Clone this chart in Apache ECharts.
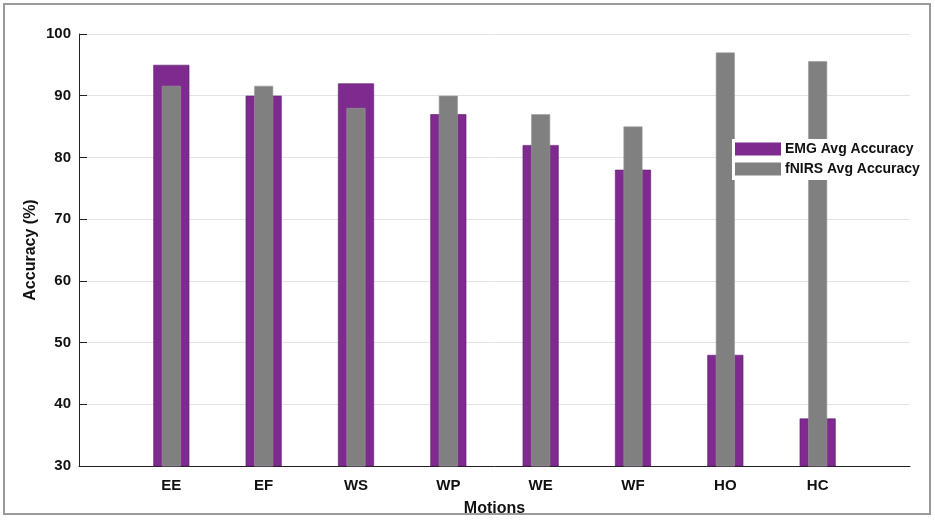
<!DOCTYPE html>
<html>
<head>
<meta charset="utf-8">
<script src="https://cdn.jsdelivr.net/npm/echarts@6/dist/echarts.min.js"></script>
<style>html,body{margin:0;padding:0;background:#fff;}#c{width:935px;height:520px;}</style>
</head>
<body>
<div id="c"></div>
<script>
const categories = ['EE', 'EF', 'WS', 'WP', 'WE', 'WF', 'HO', 'HC'];
const emgValues = [95, 90, 92, 87, 82, 78, 48, 37.7];
const fnirsValues = [91.6, 91.6, 88, 90, 87, 85, 97, 95.6];
const yTicks = [30, 40, 50, 60, 70, 80, 90, 100];

const FONT = '"Liberation Sans", Arial, sans-serif';
const positions = categories.map((c, i) => i + 1);

const chart = echarts.init(document.getElementById('c'), null, {renderer: 'canvas'});
const xAxisBase = {
  type: 'value', min: 0, max: positions.length + 1,
  axisLine: {show: true, onZero: false, lineStyle: {color: '#222', width: 1}},
  splitLine: {show: false}
};
chart.setOption({
  animation: false,
  backgroundColor: '#fff',
  grid: {left: 79, right: 25, top: 34, bottom: 54, containLabel: false, outerBoundsMode: 'none'},
  graphic: [{
    type: 'rect', shape: {x: 4, y: 4, width: 926, height: 510},
    style: {fill: 'none', stroke: '#9a9a9a', lineWidth: 2}, z: 100, silent: true
  }],
  legend: {
    orient: 'vertical', left: 732, top: 139,
    data: ['EMG Avg Accuracy', 'fNIRS Avg Accuracy'],
    itemWidth: 46, itemHeight: 13, itemGap: 6,
    backgroundColor: '#fff', padding: [3, 8, 4, 3],
    icon: 'rect',
    itemStyle: {borderWidth: 0},
    textStyle: {fontFamily: FONT, fontWeight: 'bold', fontSize: 14, color: '#111', padding: [0, 0, 0, -1]},
    selectedMode: false
  },
  xAxis: [
    Object.assign({}, xAxisBase, {
      name: 'Motions', nameLocation: 'middle', nameGap: 35, nameMoveOverlap: false,
      nameTextStyle: {fontFamily: FONT, fontWeight: 'bold', fontSize: 16, color: '#111'},
      axisTick: {show: true, inside: true, length: 6, lineStyle: {color: '#222'}, customValues: positions},
      axisLabel: {
        show: true, margin: 12, customValues: positions,
        formatter: v => categories[Math.round(v) - 1] || '',
        fontFamily: FONT, fontWeight: 'bold', fontSize: 15, color: '#111'
      }
    }),
    Object.assign({}, xAxisBase, {
      show: false
    })
  ],
  yAxis: {
    type: 'value', min: 30, max: 100, interval: 10,
    name: 'Accuracy (%)', nameLocation: 'middle', nameGap: 40, nameRotate: 90, nameMoveOverlap: false,
    nameTextStyle: {fontFamily: FONT, fontWeight: 'bold', fontSize: 16, color: '#111'},
    axisLine: {show: true, lineStyle: {color: '#222', width: 1}},
    axisTick: {show: true, inside: true, length: 8, lineStyle: {color: '#222'}},
    axisLabel: {
      margin: 8, fontFamily: FONT, fontWeight: 'bold', fontSize: 15, color: '#111',
      formatter: v => yTicks.includes(v) ? String(v) : ''
    },
    splitLine: {show: true, lineStyle: {color: '#e3e3e3', width: 1}}
  },
  series: [
    {
      name: 'EMG Avg Accuracy', type: 'bar', xAxisIndex: 0,
      barWidth: 36,
      data: positions.map((p, i) => [p, emgValues[i]]),
      itemStyle: {color: '#7f2a8e', borderColor: '#5e1f6b', borderWidth: 0.6},
      z: 2
    },
    {
      name: 'fNIRS Avg Accuracy', type: 'bar', xAxisIndex: 1,
      barWidth: 19,
      data: positions.map((p, i) => [p, fnirsValues[i]]),
      itemStyle: {color: '#808080', borderColor: '#9a9a9a', borderWidth: 0.6},
      z: 3
    }
  ]
});
</script>
</body>
</html>
